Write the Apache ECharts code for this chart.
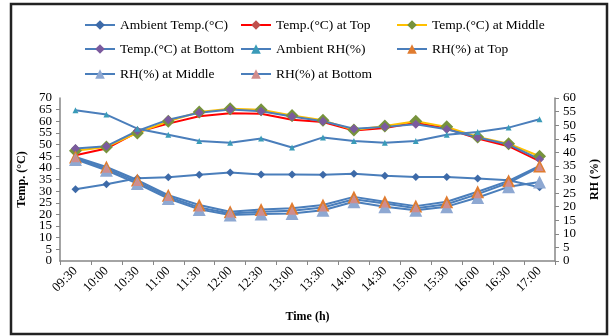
<!DOCTYPE html>
<html>
<head>
<meta charset="utf-8">
<script src="https://cdn.jsdelivr.net/npm/echarts@6/dist/echarts.min.js"></script>
<style>
  html, body { margin: 0; padding: 0; background: #fff; }
  #chart { width: 609px; height: 336px; }
</style>
</head>
<body>
<div id="chart"></div>
<script>
// time of day (x axis)
var times = ['09:30', '10:00', '10:30', '11:00', '11:30', '12:00', '12:30', '13:00',
             '13:30', '14:00', '14:30', '15:00', '15:30', '16:00', '16:30', '17:00'];

// temperatures, left axis (°C)
var ambientTemp = [30.8, 33, 35.5, 36, 37, 38, 37.1, 37.2, 37, 37.5, 36.6, 36.1, 36.1, 35.4, 34.7, 31.7];
var tempTop     = [45.4, 48.3, 55.4, 59, 62.2, 63.5, 63.2, 60.7, 59.7, 56, 57.1, 59.4, 56.9, 52.6, 49.3, 42.9];
var tempMiddle  = [47.3, 49, 55, 60, 64, 65.4, 65, 62.5, 60.4, 56.3, 58, 60, 57.6, 53.3, 50.4, 45];
var tempBottom  = [48.3, 49.3, 55.9, 60.7, 63.7, 65.1, 64.3, 62.1, 60, 56.8, 57.6, 58.7, 56.6, 53, 50, 43.7];

// relative humidity, right axis (%)
var ambientRH = [55.5, 53.9, 48.7, 46.5, 44.2, 43.5, 45.1, 41.8, 45.5, 44.2, 43.5, 44.2, 46.5, 47.5, 49.1, 52.2];
var rhTop     = [38.3, 34.6, 29.8, 24.2, 20.6, 18.1, 19, 19.4, 20.6, 23.6, 21.8, 20.2, 21.8, 25.5, 29.5, 35];
var rhMiddle  = [37.4, 33.4, 28.5, 23, 19, 16.9, 17.3, 17.5, 18.7, 21.8, 20, 18.7, 20, 23.4, 27.3, 29.1];
var rhBottom  = [37.8, 34, 29.1, 23.6, 19.7, 17.5, 18.1, 18.5, 19.7, 22.7, 21.2, 19.4, 20.9, 24.6, 28.8, 34.6];

var font = 'Liberation Serif';
var blue = '#4A7EBB';
var axisGrey = '#868686';

function lineSeries(name, data, yIdx, lineColor, symbol, size, markColor) {
  return {
    name: name,
    type: 'line',
    yAxisIndex: yIdx,
    data: data,
    symbol: symbol,
    symbolSize: size,
    lineStyle: { color: lineColor, width: 2 },
    itemStyle: { color: markColor, borderWidth: 0 },
    emphasis: { disabled: true }
  };
}

// one legend per item, laid out like the 3 column grid of the picture
function legendAt(name, left, top) {
  return {
    data: [name],
    left: left,
    top: top,
    itemWidth: 30,
    itemHeight: 12,
    itemGap: 4,
    textStyle: { fontFamily: font, fontSize: 13.5, color: '#000' }
  };
}

var labelStyle = { fontFamily: font, fontSize: 13, color: '#000', margin: 8 };

var chart = echarts.init(document.getElementById('chart'));

var option = {
  animation: false,
  backgroundColor: '#fff',
  graphic: [{
    type: 'rect',
    shape: { x: 11, y: 4, width: 596, height: 330 },
    style: { fill: 'none', stroke: '#222', lineWidth: 2.5 },
    z: 100
  }],
  legend: [
    legendAt('Ambient Temp.(°C)', 79, 13),
    legendAt('Temp.(°C) at Top', 235, 13),
    legendAt('Temp.(°C) at Middle', 391, 13),
    legendAt('Temp.(°C) at Bottom', 79, 37),
    legendAt('Ambient RH(%)', 235, 37),
    legendAt('RH(%) at Top', 391, 37),
    legendAt('RH(%) at Middle', 79, 62),
    legendAt('RH(%) at Bottom', 235, 62)
  ],
  grid: { left: 60, right: 52, top: 98, bottom: 75 },
  xAxis: {
    type: 'category',
    data: times,
    boundaryGap: true,
    name: 'Time (h)',
    nameLocation: 'middle',
    nameGap: 50,
    nameTextStyle: { fontFamily: font, fontSize: 12, fontWeight: 'bold', color: '#000' },
    axisLine: { lineStyle: { color: axisGrey, width: 1.5 } },
    axisTick: { show: true, alignWithLabel: false, length: 4, lineStyle: { color: axisGrey } },
    axisLabel: { rotate: 45, fontFamily: font, fontSize: 13, color: '#000', margin: 8, interval: 0 },
    splitLine: { show: false }
  },
  yAxis: [{
    type: 'value',
    min: 0, max: 70, interval: 5,
    name: 'Temp. (°C)',
    nameLocation: 'middle',
    nameRotate: 90,
    nameGap: 30,
    nameTextStyle: { fontFamily: font, fontSize: 12, fontWeight: 'bold', color: '#000' },
    axisLine: { show: true, lineStyle: { color: axisGrey, width: 1.5 } },
    axisTick: { show: true, length: 4, lineStyle: { color: axisGrey } },
    // min/max labels come from the helper axis below, so 5 and 65 are not dropped
    axisLabel: Object.assign({ showMinLabel: false, showMaxLabel: false }, labelStyle),
    splitLine: { show: false }
  }, {
    type: 'value',
    position: 'right',
    min: 0, max: 60, interval: 5,
    name: 'RH (%)',
    nameLocation: 'middle',
    nameRotate: 90,
    nameGap: 34,
    nameTextStyle: { fontFamily: font, fontSize: 12, fontWeight: 'bold', color: '#000' },
    axisLine: { show: true, lineStyle: { color: axisGrey, width: 1.5 } },
    axisTick: { show: true, length: 4, lineStyle: { color: axisGrey } },
    axisLabel: Object.assign({ showMinLabel: true, showMaxLabel: true }, labelStyle),
    splitLine: { show: false }
  }, {
    // helper: same left scale, only the 0 and 70 labels
    type: 'value',
    position: 'left',
    min: 0, max: 70, interval: 70,
    axisLine: { show: false },
    axisTick: { show: false },
    axisLabel: Object.assign({ showMinLabel: true, showMaxLabel: true }, labelStyle),
    splitLine: { show: false }
  }],
  series: [
    lineSeries('Ambient Temp.(°C)', ambientTemp, 0, blue, 'diamond', 8, '#3D6AA8'),
    lineSeries('Temp.(°C) at Top', tempTop, 0, '#FF0000', 'diamond', 4, '#C0504D'),
    lineSeries('Temp.(°C) at Middle', tempMiddle, 0, '#FFC000', 'diamond', 13, '#77933C'),
    lineSeries('Temp.(°C) at Bottom', tempBottom, 0, blue, 'diamond', 9, '#7A5A9E'),
    lineSeries('Ambient RH(%)', ambientRH, 1, blue, 'triangle', 6, '#3A9BB8'),
    lineSeries('RH(%) at Top', rhTop, 1, blue, 'triangle', 13, '#E07C30'),
    lineSeries('RH(%) at Middle', rhMiddle, 1, blue, 'triangle', 13, '#8EA8D2'),
    lineSeries('RH(%) at Bottom', rhBottom, 1, blue, 'triangle', 8, '#D08C8C')
  ]
};

chart.setOption(option);

window.onresize = function () {
  chart.resize();
};
</script>
</body>
</html>
